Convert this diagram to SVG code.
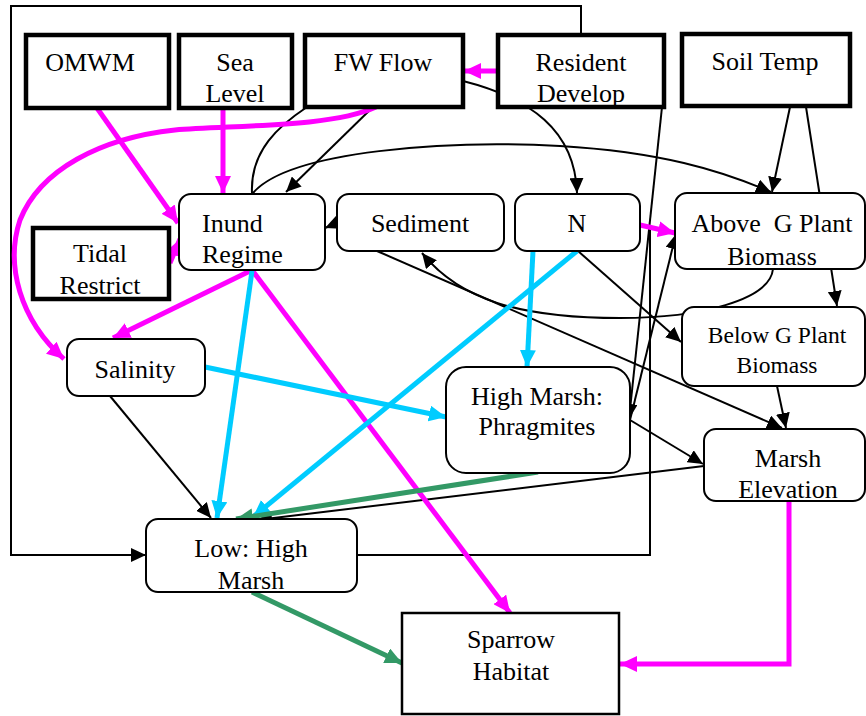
<svg xmlns="http://www.w3.org/2000/svg" width="866" height="716" viewBox="0 0 866 716" font-family="Liberation Serif, DejaVu Serif, serif">
<style>
text{font-size:26px;fill:#000;text-anchor:middle}
.thick{fill:#fff;stroke:#000;stroke-width:4.5}
.rnd{fill:#fff;stroke:#000;stroke-width:2}
.sq{fill:#fff;stroke:#000;stroke-width:2.5}
.k{fill:none;stroke:#000;stroke-width:2}
.m{fill:none;stroke:#FF00FF;stroke-width:5}
.c{fill:none;stroke:#00CCFF;stroke-width:5}
.g{fill:none;stroke:#339966;stroke-width:5}
</style>
<defs>
<marker id="ak" markerUnits="userSpaceOnUse" markerWidth="16" markerHeight="14" refX="15" refY="7" orient="auto"><path d="M0,0 L15,7 L0,14 z" fill="#000"/></marker>
<marker id="am" markerUnits="userSpaceOnUse" markerWidth="18" markerHeight="16" refX="17" refY="8" orient="auto"><path d="M0,0 L17,8 L0,16 z" fill="#FF00FF"/></marker>
<marker id="ac" markerUnits="userSpaceOnUse" markerWidth="18" markerHeight="16" refX="17" refY="8" orient="auto"><path d="M0,0 L17,8 L0,16 z" fill="#00CCFF"/></marker>
<marker id="ag" markerUnits="userSpaceOnUse" markerWidth="18" markerHeight="16" refX="17" refY="8" orient="auto"><path d="M0,0 L17,8 L0,16 z" fill="#339966"/></marker>
</defs>
<g id="connectors">
<path class="k" d="M581,34 L581,6 L11,6 L11,555 L146,555" marker-end="url(#ak)"/>
<path class="k" d="M650,228 L650,555 L357,555"/>
<path class="k" d="M374,106 L286,192" marker-end="url(#ak)"/>
<path class="k" d="M252,193 C250,150 280,125 307,107"/>
<path class="k" d="M253,193 C290,150 450,140 560,146 C660,152 720,170 771,192" marker-end="url(#ak)"/>
<path class="k" d="M790,107 L772,192" marker-end="url(#ak)"/>
<path class="k" d="M806,107 L837,306" marker-end="url(#ak)"/>
<path class="k" d="M463,81 C530,98 575,130 577,193" marker-end="url(#ak)"/>
<path class="k" d="M662,107 L629,419" marker-end="url(#ak)"/>
<path class="k" d="M630,420 L676,234" marker-end="url(#ak)"/>
<path class="k" d="M578,251 L681,342" marker-end="url(#ak)"/>
<path class="k" d="M377,251 L782,428" marker-end="url(#ak)"/>
<path class="k" d="M777,386 L786,428" marker-end="url(#ak)"/>
<path class="k" d="M773,269 C770,300 700,318 620,318 C520,318 460,300 422,253" marker-end="url(#ak)"/>
<path class="k" d="M337,223 L325,228" marker-end="url(#ak)"/>
<path class="k" d="M630,420 L703,464" marker-end="url(#ak)"/>
<path class="k" d="M704,466 L257,520" marker-end="url(#ak)"/>
<path class="k" d="M110,396 L211,518" marker-end="url(#ak)"/>
<path class="m" d="M97,108 L178,223" marker-end="url(#am)"/>
<path class="m" d="M223,108 L223,193" marker-end="url(#am)"/>
<path class="m" d="M376,107 C330,128 230,125 175,130 C100,138 40,170 20,220 C5,265 20,320 64,359" marker-end="url(#am)"/>
<path class="m" d="M497,71 L464,71" marker-end="url(#am)"/>
<path class="m" d="M170,263 L180,239" marker-end="url(#am)"/>
<path class="m" d="M252,270 L113,338" marker-end="url(#am)"/>
<path class="m" d="M252,270 L510,613" marker-end="url(#am)"/>
<path class="m" d="M640,225 L675,233" marker-end="url(#am)"/>
<path class="m" d="M789,501 L789,664 L620,664" marker-end="url(#am)"/>
<path class="c" d="M252,271 L217,518" marker-end="url(#ac)"/>
<path class="c" d="M205,367 L446,417" marker-end="url(#ac)"/>
<path class="c" d="M577,251 L253,517" marker-end="url(#ac)"/>
<path class="c" d="M533,251 L527,367" marker-end="url(#ac)"/>
<path class="g" d="M538,472 L236,519" marker-end="url(#ag)"/>
<path class="g" d="M252,592 L402,663" marker-end="url(#ag)"/>
</g>
<g id="omwm"><rect class="thick" x="26" y="35" width="143" height="73"/><text x="90" y="71">OMWM</text></g>
<g id="sea-level"><rect class="thick" x="179" y="35" width="113" height="73"/><text x="235" y="71">Sea</text><text x="235" y="102">Level</text></g>
<g id="fw-flow"><rect class="thick" x="305" y="35" width="158" height="72"/><text x="383" y="71">FW Flow</text></g>
<g id="resident-develop"><rect class="thick" x="498" y="35" width="166" height="72"/><text x="581" y="71">Resident</text><text x="581" y="102">Develop</text></g>
<g id="soil-temp"><rect class="thick" x="682" y="34" width="168" height="72"/><text x="765" y="70">Soil Temp</text></g>
<g id="tidal-restrict"><rect class="thick" x="33" y="228" width="136" height="71"/><text x="100" y="262">Tidal</text><text x="100" y="294">Restrict</text></g>
<g id="inund-regime"><rect class="rnd" x="179" y="194" width="146" height="76" rx="12"/><text x="202" y="232" style="text-anchor:start">Inund</text><text x="202" y="263" style="text-anchor:start">Regime</text></g>
<g id="sediment"><rect class="rnd" x="337" y="194" width="167" height="57" rx="12"/><text x="420" y="232">Sediment</text></g>
<g id="n"><rect class="rnd" x="515" y="194" width="125" height="57" rx="12"/><text x="577" y="232">N</text></g>
<g id="above-g"><rect class="rnd" x="675" y="193" width="190" height="76" rx="12"/><text x="772" y="232" xml:space="preserve">Above  G Plant</text><text x="772" y="265">Biomass</text></g>
<g id="below-g"><rect class="rnd" x="682" y="307" width="183" height="79" rx="12"/><text x="777" y="343" style="font-size:23.5px">Below G Plant</text><text x="777" y="373" style="font-size:23.5px">Biomass</text></g>
<g id="salinity"><rect class="rnd" x="67" y="339" width="138" height="57" rx="12"/><text x="135" y="378">Salinity</text></g>
<g id="high-marsh"><rect class="rnd" x="446" y="367" width="184" height="106" rx="20"/><text x="537" y="405">High Marsh:</text><text x="537" y="435">Phragmites</text></g>
<g id="marsh-elevation"><rect class="rnd" x="704" y="429" width="161" height="72" rx="12"/><text x="788" y="467">Marsh</text><text x="788" y="498">Elevation</text></g>
<g id="low-high-marsh"><rect class="rnd" x="146" y="519" width="211" height="73" rx="12"/><text x="251" y="557">Low: High</text><text x="251" y="589">Marsh</text></g>
<g id="sparrow-habitat"><rect class="sq" x="402" y="613" width="217" height="101"/><text x="511" y="648">Sparrow</text><text x="511" y="680">Habitat</text></g>
</svg>
